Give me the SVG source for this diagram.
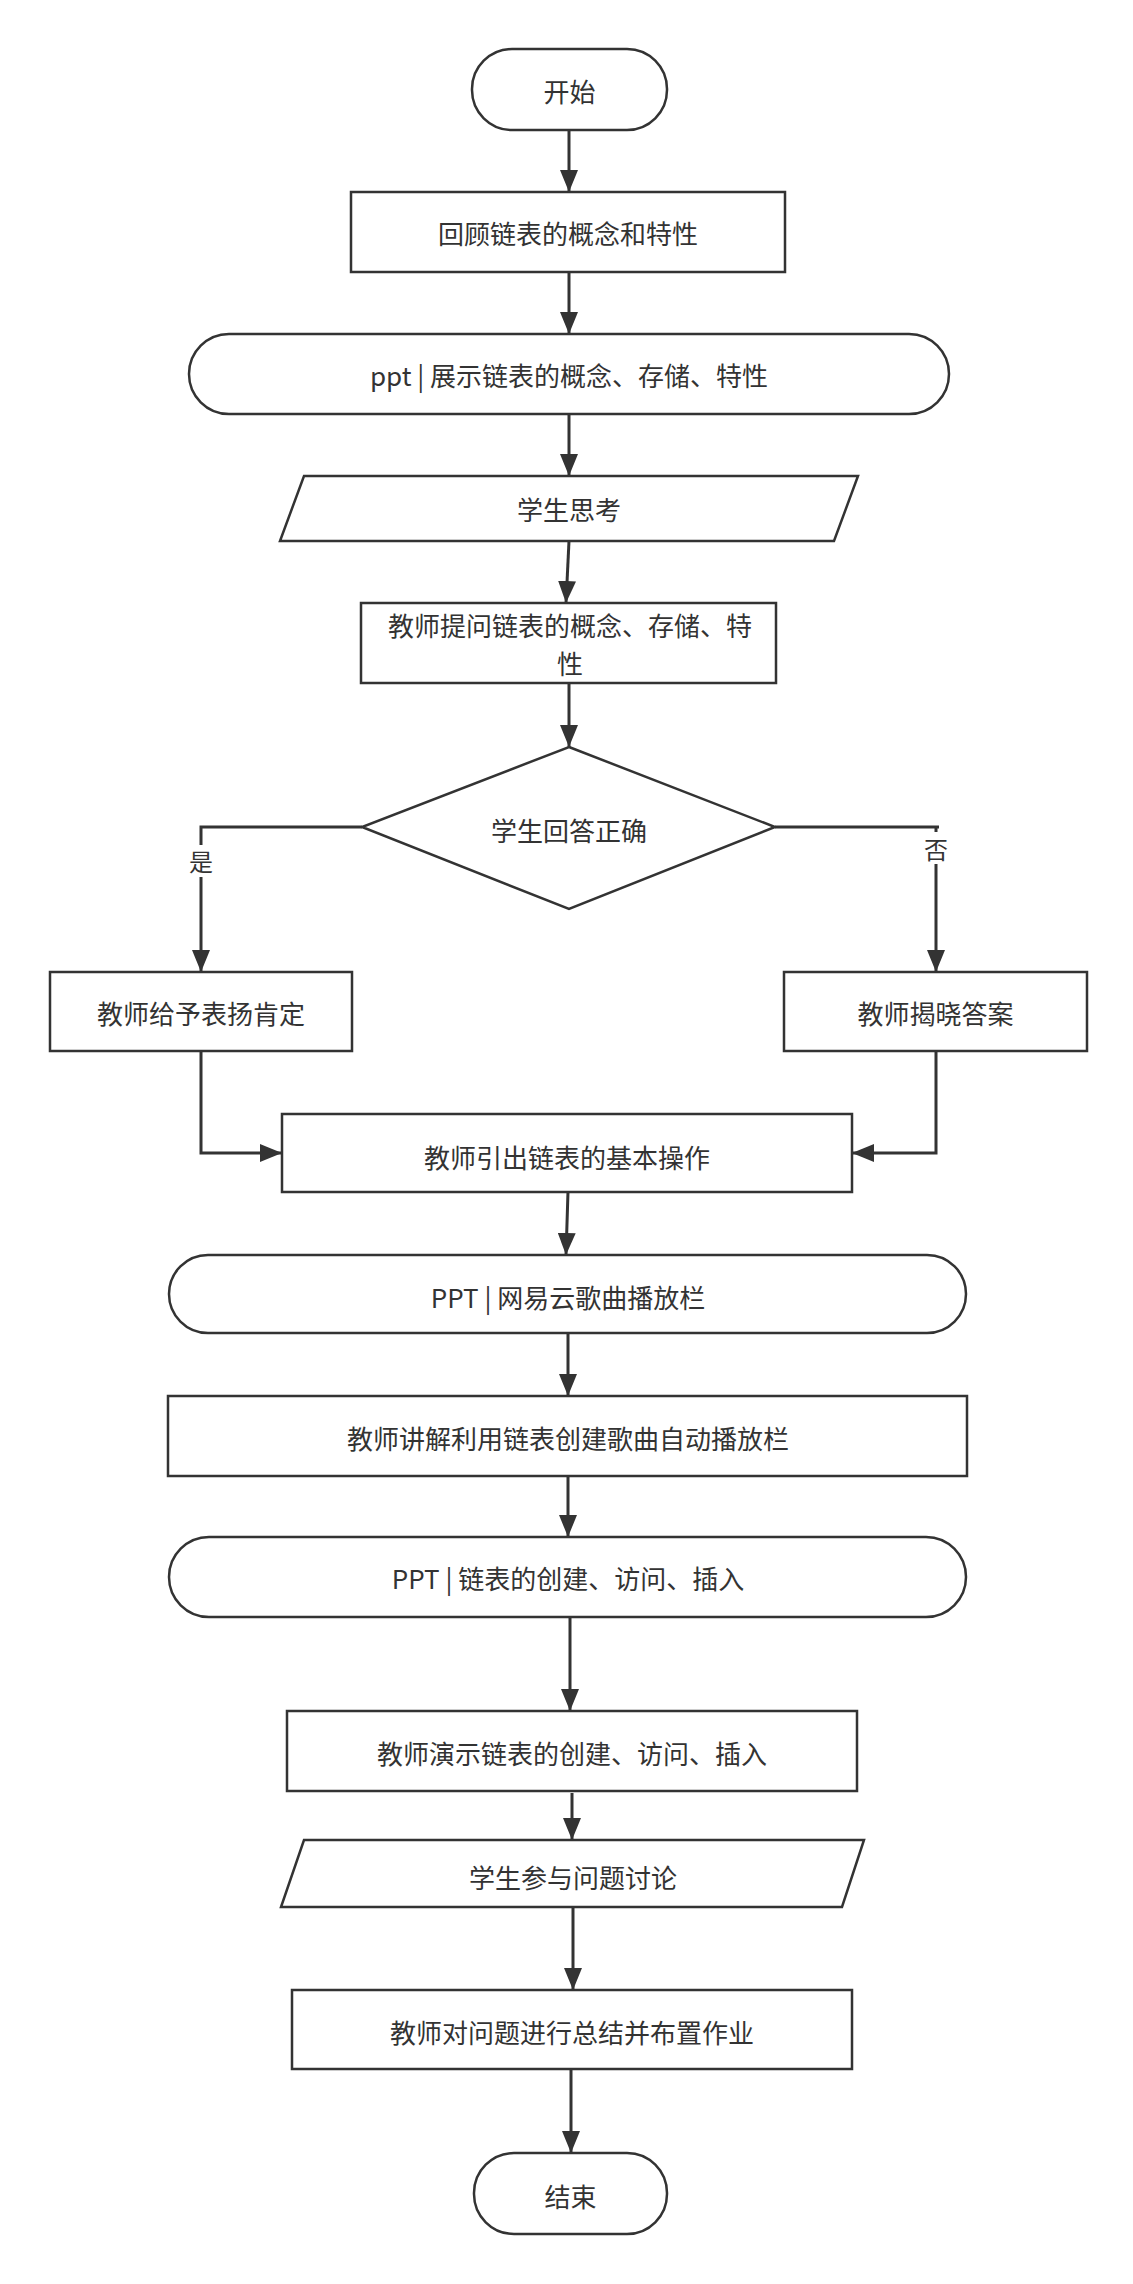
<svg xmlns="http://www.w3.org/2000/svg" width="1133" height="2284" viewBox="0 0 1133 2284">
<style>
.s{fill:#fff;stroke:#333;stroke-width:2.5}
.t{font-family:"Noto Sans CJK SC","Noto Sans",sans-serif;font-size:26px;fill:#333;text-anchor:middle;dominant-baseline:central}
.l{font-family:"Noto Sans CJK SC","Noto Sans",sans-serif;font-size:24px;fill:#333;text-anchor:middle;dominant-baseline:central}
.c{fill:none;stroke:#333;stroke-width:3}
</style>
<defs>
<marker id="a" markerUnits="userSpaceOnUse" markerWidth="22" markerHeight="18" refX="22" refY="9" orient="auto">
<path d="M0,0 L22,9 L0,18 z" fill="#333"/>
</marker>
</defs>
<rect width="1133" height="2284" fill="#fff"/>
<g id="connectors">
<path class="c" d="M569,130 L569,192" marker-end="url(#a)"/>
<path class="c" d="M569,272 L569,334" marker-end="url(#a)"/>
<path class="c" d="M569,414 L569,476" marker-end="url(#a)"/>
<path class="c" d="M569,541 L566,603" marker-end="url(#a)"/>
<path class="c" d="M569,683 L569,747" marker-end="url(#a)"/>
<path class="c" d="M362,827 L201,827 L201,972" marker-end="url(#a)"/>
<path class="c" d="M775,827 L939,827 M936,827 L936,972" marker-end="url(#a)"/>
<path class="c" d="M201,1051 L201,1153 L282,1153" marker-end="url(#a)"/>
<path class="c" d="M936,1051 L936,1153 L852,1153" marker-end="url(#a)"/>
<path class="c" d="M568,1192 L566,1255" marker-end="url(#a)"/>
<path class="c" d="M568,1333 L568,1396" marker-end="url(#a)"/>
<path class="c" d="M568,1476 L568,1537" marker-end="url(#a)"/>
<path class="c" d="M570,1617 L570,1711" marker-end="url(#a)"/>
<path class="c" d="M572,1793 L572,1840" marker-end="url(#a)"/>
<path class="c" d="M573,1907 L573,1990" marker-end="url(#a)"/>
<path class="c" d="M571,2069 L571,2153" marker-end="url(#a)"/>
<rect x="187" y="845" width="28" height="32" fill="#fff"/>
<text class="l" x="201" y="860">是</text>
<rect x="922" y="832" width="28" height="32" fill="#fff"/>
<text class="l" x="936" y="848">否</text>
</g>
<g id="start">
<rect class="s" x="472" y="49" width="195" height="81" rx="40"/>
<text class="t" x="569.5" y="90">开始</text>
</g>
<g id="review">
<rect class="s" x="351" y="192" width="434" height="80"/>
<text class="t" x="568" y="232">回顾链表的概念和特性</text>
</g>
<g id="ppt1">
<rect class="s" x="189" y="334" width="760" height="80" rx="40"/>
<text class="t" x="569" y="374">ppt | 展示链表的概念、存储、特性</text>
</g>
<g id="think">
<polygon class="s" points="304,476 858,476 834,541 280,541"/>
<text class="t" x="569" y="508">学生思考</text>
</g>
<g id="ask">
<rect class="s" x="361" y="603" width="415" height="80"/>
<text class="t" x="570" y="624">教师提问链表的概念、存储、特</text>
<text class="t" x="570" y="662">性</text>
</g>
<g id="decision">
<polygon class="s" points="569,747 775,827 569,909 362,827"/>
<text class="t" x="569" y="829">学生回答正确</text>
</g>
<g id="praise">
<rect class="s" x="50" y="972" width="302" height="79"/>
<text class="t" x="201" y="1012">教师给予表扬肯定</text>
</g>
<g id="reveal">
<rect class="s" x="784" y="972" width="303" height="79"/>
<text class="t" x="935.5" y="1012">教师揭晓答案</text>
</g>
<g id="intro">
<rect class="s" x="282" y="1114" width="570" height="78"/>
<text class="t" x="567" y="1156">教师引出链表的基本操作</text>
</g>
<g id="ppt2">
<rect class="s" x="169" y="1255" width="797" height="78" rx="39"/>
<text class="t" x="568" y="1296">PPT | 网易云歌曲播放栏</text>
</g>
<g id="explain">
<rect class="s" x="168" y="1396" width="799" height="80"/>
<text class="t" x="568" y="1437">教师讲解利用链表创建歌曲自动播放栏</text>
</g>
<g id="ppt3">
<rect class="s" x="169" y="1537" width="797" height="80" rx="40"/>
<text class="t" x="568" y="1577">PPT | 链表的创建、访问、插入</text>
</g>
<g id="demo">
<rect class="s" x="287" y="1711" width="570" height="80"/>
<text class="t" x="572" y="1752">教师演示链表的创建、访问、插入</text>
</g>
<g id="discuss">
<polygon class="s" points="304,1840 864,1840 842,1907 281,1907"/>
<text class="t" x="573" y="1876">学生参与问题讨论</text>
</g>
<g id="summary">
<rect class="s" x="292" y="1990" width="560" height="79"/>
<text class="t" x="572" y="2031">教师对问题进行总结并布置作业</text>
</g>
<g id="end">
<rect class="s" x="474" y="2153" width="193" height="81" rx="40"/>
<text class="t" x="570.5" y="2195">结束</text>
</g>
</svg>
